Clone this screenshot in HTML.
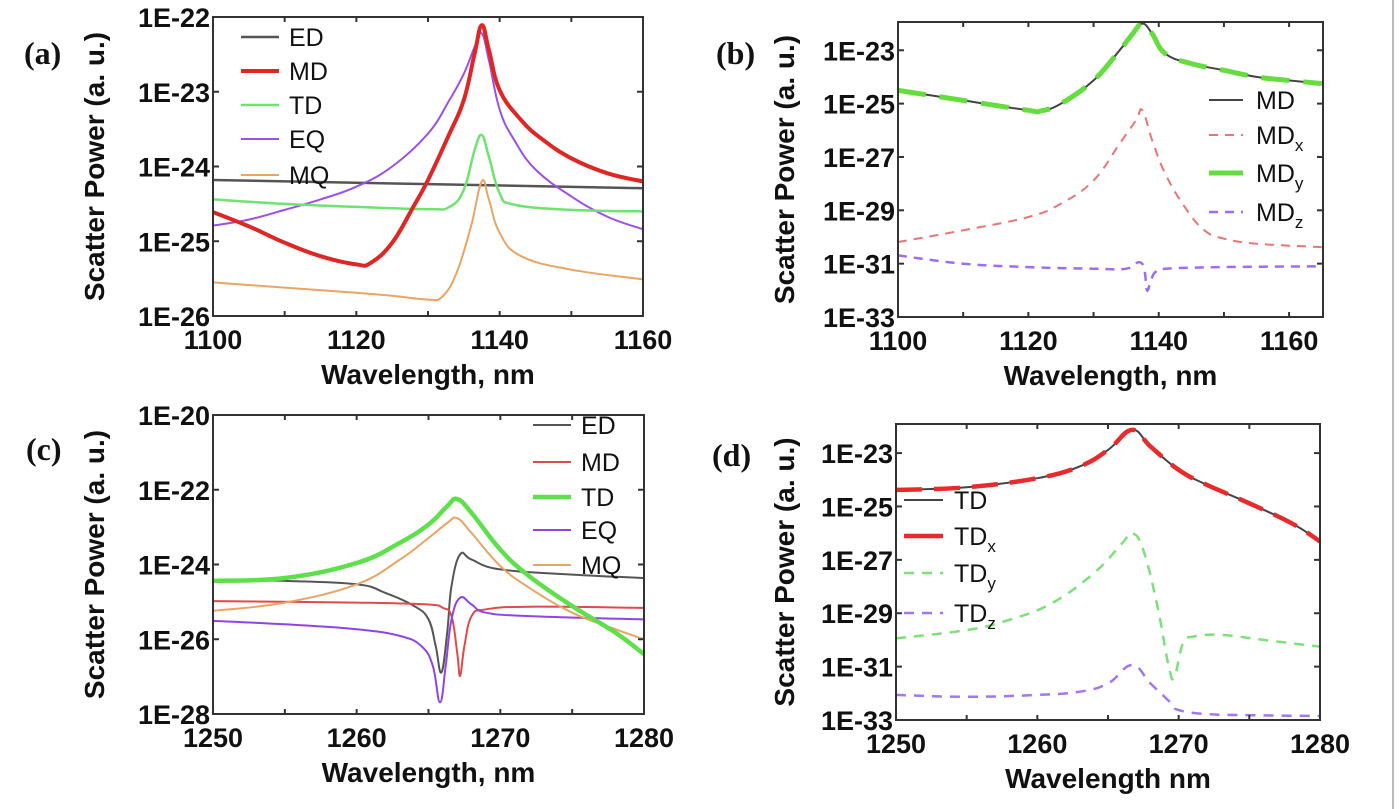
<!DOCTYPE html>
<html><head><meta charset="utf-8"><style>
html,body{margin:0;padding:0;background:#fff}
svg{display:block}
text{font-family:"Liberation Sans",Arial,sans-serif;font-weight:bold;fill:#111}
.pl{font-family:"Liberation Serif",serif;font-weight:bold}
</style></head><body>
<svg id="fig" width="1400" height="809" viewBox="0 0 1400 809" xmlns="http://www.w3.org/2000/svg">
<rect x="0" y="0" width="1400" height="809" fill="#fff"/>
<line x1="1393" y1="0" x2="1393" y2="809" stroke="#bbb" stroke-width="2"/>
</svg>
<script>
// ---------- Panel (a) data (log10 scatter power) ----------
const aWlED=[1100,1160];
const aED=[-24.18,-24.29];
const aWlMD=[1100,1105,1110,1115,1120,1122,1125,1128,1130,1133,1135,1136.5,1137.5,1138.5,1140,1143,1146,1150,1155,1160];
const aMD=[-24.61,-24.8,-25.02,-25.2,-25.31,-25.29,-25.02,-24.53,-24.18,-23.56,-23.11,-22.49,-22.11,-22.44,-22.98,-23.38,-23.64,-23.89,-24.09,-24.2];
const aWlTD=[1100,1110,1120,1130,1133,1135,1136.5,1137.5,1138.5,1140,1142,1150,1160];
const aTD=[-24.44,-24.5,-24.54,-24.57,-24.54,-24.31,-23.78,-23.58,-23.87,-24.36,-24.51,-24.58,-24.6];
const aWlEQ=[1100,1105,1110,1115,1120,1125,1130,1133,1135,1136.5,1137.5,1138.5,1140,1142,1145,1150,1155,1160];
const aEQ=[-24.79,-24.71,-24.58,-24.44,-24.27,-24.0,-23.56,-23.11,-22.76,-22.4,-22.22,-22.58,-23.24,-23.64,-24.04,-24.4,-24.67,-24.84];
const aWlMQ=[1100,1110,1120,1125,1130,1132,1134,1136,1137.5,1138.5,1140,1143,1150,1160];
const aMQ=[-25.55,-25.62,-25.69,-25.73,-25.78,-25.74,-25.42,-24.8,-24.2,-24.44,-24.89,-25.2,-25.38,-25.51];
const aYTicks=[-22,-23,-24,-25,-26];
const aYLabels=["1E-22","1E-23","1E-24","1E-25","1E-26"];
const aXTicks=[1100,1120,1140,1160];

// ---------- Panel (b) data ----------
const bWlMD=[1100,1110,1120,1122,1125,1130,1134,1136,1137.5,1139,1141,1145,1150,1155,1160,1165];
const bMD=[-24.5,-24.88,-25.25,-25.27,-25.0,-24.13,-23.0,-22.38,-22.0,-22.38,-23.13,-23.5,-23.75,-24.0,-24.13,-24.25];
const bWlMDx=[1100,1110,1120,1125,1130,1134,1136.5,1137.5,1139,1141,1144,1147,1150,1155,1165];
const bMDx=[-30.19,-29.75,-29.25,-28.75,-27.88,-26.5,-25.63,-25.25,-26.38,-27.63,-28.88,-29.75,-30.06,-30.25,-30.38];
const bWlMDz=[1100,1110,1120,1130,1135,1137,1137.8,1138.2,1138.8,1139.5,1141,1150,1165];
const bMDz=[-30.69,-31.0,-31.13,-31.19,-31.19,-30.94,-31.25,-32.0,-31.63,-31.31,-31.19,-31.13,-31.1];
const bYTicks=[-23,-25,-27,-29,-31,-33];
const bYLabels=["1E-23","1E-25","1E-27","1E-29","1E-31","1E-33"];
const bXTicks=[1100,1120,1140,1160];

// ---------- Panel (c) data ----------
const cWlTD=[1250,1255,1260,1263,1265,1266.3,1267,1268,1270,1272,1275,1278,1280];
const cTD=[-24.44,-24.36,-23.96,-23.42,-22.93,-22.44,-22.25,-22.62,-23.6,-24.31,-25.11,-25.82,-26.4];
const cWlMQ=[1250,1255,1260,1263,1265,1266.3,1267,1268,1270,1272,1275,1278,1280];
const cMQ=[-25.24,-25.02,-24.53,-23.87,-23.29,-22.89,-22.76,-23.16,-24.04,-24.62,-25.29,-25.73,-26.0];
const cWlED=[1253.5,1255,1260,1262,1264,1265,1265.5,1265.9,1266.3,1266.6,1267.2,1268,1270,1275,1280];
const cED=[-24.44,-24.44,-24.53,-24.76,-25.11,-25.47,-26.18,-26.89,-25.82,-24.58,-23.73,-23.87,-24.13,-24.27,-24.36];
const cWlMD=[1250,1260,1265,1266,1266.6,1267,1267.2,1267.5,1268,1269,1272,1280];
const cMD=[-24.98,-25.02,-25.07,-25.16,-25.38,-26.36,-26.98,-26.18,-25.38,-25.2,-25.13,-25.16];
const cWlEQ=[1250,1255,1260,1263,1264.5,1265.3,1265.8,1266.2,1266.6,1267.2,1268,1269,1272,1280];
const cEQ=[-25.51,-25.6,-25.73,-25.91,-26.18,-26.71,-27.69,-26.71,-25.47,-24.89,-25.07,-25.29,-25.38,-25.47];
const cYTicks=[-20,-22,-24,-26,-28];
const cYLabels=["1E-20","1E-22","1E-24","1E-26","1E-28"];
const cXTicks=[1250,1260,1270,1280];

// ---------- Panel (d) data ----------
const dWlTD=[1250,1255,1260,1263,1265,1266.7,1268,1270,1272,1275,1278,1280];
const dTD=[-24.38,-24.28,-23.94,-23.5,-22.88,-22.13,-22.75,-23.63,-24.19,-24.88,-25.63,-26.31];
const dWlTDy=[1250,1255,1258,1261,1264,1266,1266.7,1267.5,1268.5,1269.3,1269.7,1270.3,1271,1273,1276,1280];
const dTDy=[-29.94,-29.63,-29.25,-28.63,-27.5,-26.38,-26.0,-26.63,-28.75,-31.0,-31.38,-30.13,-29.88,-29.81,-30.0,-30.25];
const dWlTDz=[1250,1255,1260,1263,1265,1266.7,1268,1269.5,1270,1272,1275,1280];
const dTDz=[-32.06,-32.13,-32.06,-31.94,-31.63,-30.94,-31.63,-32.38,-32.63,-32.78,-32.82,-32.85];
const dYTicks=[-23,-25,-27,-29,-31,-33];
const dYLabels=["1E-23","1E-25","1E-27","1E-29","1E-31","1E-33"];
const dXTicks=[1250,1260,1270,1280];

const NS="http://www.w3.org/2000/svg";
const svg=document.getElementById('fig');
function mk(tag,attrs,parent){const e=document.createElementNS(NS,tag);for(const k in attrs)e.setAttribute(k,attrs[k]);(parent||svg).appendChild(e);return e;}

function smoothPath(P){
  if(P.length<3){return 'M'+P.map(p=>p[0].toFixed(1)+','+p[1].toFixed(1)).join(' L');}
  let d='M'+P[0][0].toFixed(1)+','+P[0][1].toFixed(1);
  const t=0.2;
  for(let i=0;i<P.length-1;i++){
    const p0=P[Math.max(0,i-1)],p1=P[i],p2=P[i+1],p3=P[Math.min(P.length-1,i+2)];
    const c1=[p1[0]+(p2[0]-p0[0])*t,p1[1]+(p2[1]-p0[1])*t];
    const c2=[p2[0]-(p3[0]-p1[0])*t,p2[1]-(p3[1]-p1[1])*t];
    c1[0]=Math.min(Math.max(c1[0],p1[0]),p2[0]);c2[0]=Math.min(Math.max(c2[0],p1[0]),p2[0]);
    d+=' C'+c1[0].toFixed(1)+','+c1[1].toFixed(1)+' '+c2[0].toFixed(1)+','+c2[1].toFixed(1)+' '+p2[0].toFixed(1)+','+p2[1].toFixed(1);
  }
  return d;
}

function panel(cfg){
  const g=mk('g',{});
  
  
  const X=v=>cfg.x0+(v-cfg.xmin)/(cfg.xmax-cfg.xmin)*(cfg.x1-cfg.x0);
  const Y=v=>cfg.y0+(cfg.ymax-v)/(cfg.ymax-cfg.ymin)*(cfg.y1-cfg.y0);
  const clip='clip-'+cfg.name;
  const cp=mk('clipPath',{id:clip},g);
  mk('rect',{x:cfg.x0,y:cfg.y0,width:cfg.x1-cfg.x0,height:cfg.y1-cfg.y0},cp);
  const sg=mk('g',{'clip-path':'url(#'+clip+')'},g);
  cfg.series.forEach(s=>{
    const P=s.wl.map((w,i)=>[X(w),Y(s.v[i])]);
    const p=mk('path',{d:smoothPath(P),fill:'none',stroke:s.color,'stroke-width':s.w,'stroke-linejoin':'round','stroke-linecap':'butt'},sg);
    if(s.dash)p.setAttribute('stroke-dasharray',s.dash);
    
    
  });
  const fr=mk('rect',{x:cfg.x0,y:cfg.y0,width:cfg.x1-cfg.x0,height:cfg.y1-cfg.y0,fill:'none',stroke:'#333','stroke-width':2},g);
  
  
  cfg.yTicks.forEach((t,i)=>{
    const y=Y(t);
    mk('line',{x1:cfg.x0,y1:y,x2:cfg.x0+6,y2:y,stroke:'#333','stroke-width':2},g);
    mk('line',{x1:cfg.x1,y1:y,x2:cfg.x1-6,y2:y,stroke:'#333','stroke-width':2},g);
    const tx=mk('text',{x:cfg.x0-3,y:y+10,'text-anchor':'end','font-size':27},g);
    tx.textContent=cfg.yLabels[i];
    
    
  });
  const step=(cfg.xTicks[1]-cfg.xTicks[0])/2;
  for(let v=cfg.xTicks[0];v<=cfg.xmax+0.001;v+=step){
    const x=X(v);
    mk('line',{x1:x,y1:cfg.y1,x2:x,y2:cfg.y1-5,stroke:'#333','stroke-width':2},g);
    mk('line',{x1:x,y1:cfg.y0,x2:x,y2:cfg.y0+5,stroke:'#333','stroke-width':2},g);
  }
  cfg.xTicks.forEach(t=>{
    const tx=mk('text',{x:X(t),y:cfg.y1+33,'text-anchor':'middle','font-size':27},g);
    tx.textContent=t;
    
    
  });
  const xt=mk('text',{x:(cfg.x0+cfg.x1)/2,y:cfg.y1+68,'text-anchor':'middle','font-size':28},g);
  xt.textContent=cfg.xTitle;
  
  
  const yc=(cfg.y0+cfg.y1)/2;
  const yt=mk('text',{x:cfg.ytx,y:yc,'text-anchor':'middle','font-size':28,transform:'rotate(-90 '+cfg.ytx+' '+yc+')'},g);
  yt.textContent='Scatter Power (a. u.)';
  
  
  const pl=mk('text',{x:cfg.plx,y:cfg.ply,'font-size':32,'class':'pl'},g);
  pl.textContent=cfg.label;
  
  
  cfg.legend.forEach((L,i)=>{
    const y=cfg.leg.y[i];
    const s=cfg.series.find(q=>q.id===L.id);
    const ln=mk('line',{x1:cfg.leg.lx0,y1:y,x2:cfg.leg.lx1,y2:y,stroke:s.color,'stroke-width':s.w},g);
    if(s.dash)ln.setAttribute('stroke-dasharray',L.ldash||s.dash);
    
    
    const tx=mk('text',{x:cfg.leg.tx,y:y+9,'font-size':25},g);
    tx.style.fontWeight='normal';
    tx.textContent=L.t;
    if(L.sub){const ts=mk('tspan',{'font-size':17,dy:7},tx);ts.textContent=L.sub;}
    
    
  });
}

panel({name:'panel-a',x0:213,x1:643,y0:17,y1:316,xmin:1100,xmax:1160,ymin:-26,ymax:-22,
 yTicks:aYTicks,yLabels:aYLabels,xTicks:aXTicks,xTitle:'Wavelength, nm',ytx:104,plx:24,ply:64,label:'(a)',
 series:[
  {id:'series-ED',wl:aWlED,v:aED,color:'#555',w:2.5},
  {id:'series-EQ',wl:aWlEQ,v:aEQ,color:'#9b50e8',w:2},
  {id:'series-TD',wl:aWlTD,v:aTD,color:'#6fe36f',w:2.5},
  {id:'series-MQ',wl:aWlMQ,v:aMQ,color:'#eaa464',w:2},
  {id:'series-MD',wl:aWlMD,v:aMD,color:'#e02525',w:4}],
 legend:[{id:'series-ED',t:'ED'},{id:'series-MD',t:'MD'},{id:'series-TD',t:'TD'},{id:'series-EQ',t:'EQ'},{id:'series-MQ',t:'MQ'}],
 leg:{lx0:241,lx1:279,tx:289,y:[37,71,105,139,175]}});

panel({name:'panel-b',x0:898,x1:1323,y0:22,y1:317,xmin:1100,xmax:1165.2,ymin:-33,ymax:-21.94,
 yTicks:bYTicks,yLabels:bYLabels,xTicks:bXTicks,xTitle:'Wavelength, nm',ytx:794,plx:716,ply:64,label:'(b)',
 series:[
  {id:'series-MD',wl:bWlMD,v:bMD,color:'#444',w:2},
  {id:'series-MDy',wl:bWlMD,v:bMD,color:'#66dd3e',w:5,dash:'28 14'},
  {id:'series-MDx',wl:bWlMDx,v:bMDx,color:'#e87676',w:2,dash:'9 7'},
  {id:'series-MDz',wl:bWlMDz,v:bMDz,color:'#9d6ef2',w:2.5,dash:'9 7'}],
 legend:[{id:'series-MD',t:'MD'},{id:'series-MDx',t:'MD',sub:'x'},{id:'series-MDy',t:'MD',sub:'y',ldash:'none'},{id:'series-MDz',t:'MD',sub:'z'}],
 leg:{lx0:1209,lx1:1243,tx:1256,y:[100,135,173,212]}});

panel({name:'panel-c',x0:213,x1:644,y0:415,y1:714,xmin:1250,xmax:1280,ymin:-28,ymax:-20,
 yTicks:cYTicks,yLabels:cYLabels,xTicks:cXTicks,xTitle:'Wavelength, nm',ytx:104,plx:26,ply:460,label:'(c)',
 series:[
  {id:'series-ED',wl:cWlED,v:cED,color:'#555',w:2},
  {id:'series-MD',wl:cWlMD,v:cMD,color:'#e04a4a',w:2},
  {id:'series-EQ',wl:cWlEQ,v:cEQ,color:'#8f45e6',w:2},
  {id:'series-MQ',wl:cWlMQ,v:cMQ,color:'#eaa464',w:2},
  {id:'series-TD',wl:cWlTD,v:cTD,color:'#5ee04a',w:4.5}],
 legend:[{id:'series-ED',t:'ED'},{id:'series-MD',t:'MD'},{id:'series-TD',t:'TD'},{id:'series-EQ',t:'EQ'},{id:'series-MQ',t:'MQ'}],
 leg:{lx0:533,lx1:571,tx:581,y:[425,462,497,530,565]}});

panel({name:'panel-d',x0:896,x1:1320,y0:424,y1:720,xmin:1250,xmax:1280,ymin:-33,ymax:-21.91,
 yTicks:dYTicks,yLabels:dYLabels,xTicks:dXTicks,xTitle:'Wavelength nm',ytx:794,plx:712,ply:466,label:'(d)',
 series:[
  {id:'series-TD',wl:dWlTD,v:dTD,color:'#444',w:2},
  {id:'series-TDx',wl:dWlTD,v:dTD,color:'#ea2a2a',w:4.5,dash:'26 12'},
  {id:'series-TDy',wl:dWlTDy,v:dTDy,color:'#7ee07a',w:2.5,dash:'10 8'},
  {id:'series-TDz',wl:dWlTDz,v:dTDz,color:'#a277f0',w:2.5,dash:'10 8'}],
 legend:[{id:'series-TD',t:'TD'},{id:'series-TDx',t:'TD',sub:'x',ldash:'none'},{id:'series-TDy',t:'TD',sub:'y'},{id:'series-TDz',t:'TD',sub:'z'}],
 leg:{lx0:904,lx1:943,tx:954,y:[500,536,573,613]}});
</script>
</body></html>
